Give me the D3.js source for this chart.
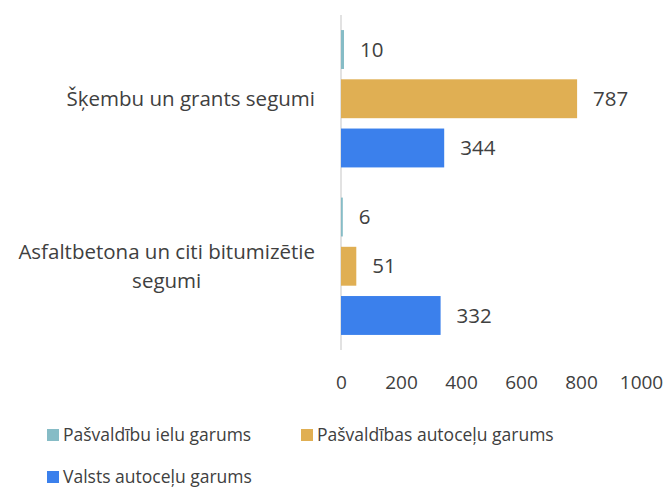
<!DOCTYPE html>
<html>
<head>
<meta charset="utf-8">
<script src="https://cdn.jsdelivr.net/npm/d3@7"></script>
<style>
  html, body { margin: 0; padding: 0; background: #fff; }
  svg text { font-family: "Open Sans", Lato, sans-serif; fill: #404040; }
</style>
</head>
<body>
<svg id="chart" width="669" height="488"></svg>
<script>
// Road lengths by surface type (km)
const categories = ["Šķembu un grants segumi", "Asfaltbetona un citi bitumizētie segumi"];
const seriesNames = ["Pašvaldību ielu garums", "Pašvaldības autoceļu garums", "Valsts autoceļu garums"];
const seriesColors = ["#86bcc6", "#e0af53", "#3b80ec"];
const pasvaldibuIelu = [10, 6];
const pasvaldibasAutocelu = [787, 51];
const valstsAutocelu = [344, 332];
const tickValues = [0, 200, 400, 600, 800, 1000];

const seriesValues = [pasvaldibuIelu, pasvaldibasAutocelu, valstsAutocelu];

const svg = d3.select("#chart");
const plot = { left: 341, right: 641, top: 15, bottom: 350 };

const x = d3.scaleLinear().domain([0, 1000]).range([plot.left, plot.right]);
const y0 = d3.scaleBand().domain(categories).range([plot.top, plot.bottom]).paddingInner(0.18).paddingOuter(0.09);
const y1 = d3.scaleBand().domain(seriesNames).range([0, y0.bandwidth()]).paddingInner(0.21);

// category axis line
svg.append("line")
  .attr("x1", x(0)).attr("x2", x(0))
  .attr("y1", plot.top).attr("y2", plot.bottom)
  .attr("stroke", "#d9d9d9").attr("stroke-width", 1.5);

const groups = svg.selectAll("g.cat")
  .data(categories)
  .join("g")
  .attr("class", "cat")
  .attr("transform", d => `translate(0,${y0(d)})`);

groups.each(function(cat, ci) {
  const g = d3.select(this);
  seriesNames.forEach((s, si) => {
    const v = seriesValues[si][ci];
    g.append("rect")
      .attr("x", x(0))
      .attr("y", y1(s))
      .attr("width", x(v) - x(0))
      .attr("height", y1.bandwidth())
      .attr("fill", seriesColors[si]);
    g.append("text")
      .attr("x", x(v) + 16)
      .attr("y", y1(s) + y1.bandwidth() / 2)
      .attr("dy", "0.35em")
      .attr("font-size", 20.5)
      .text(v);
  });
});

// category labels: block right-aligned near the axis, lines centred within the block
const catLines = [["Šķembu un grants segumi"], ["Asfaltbetona un citi bitumizētie", "segumi"]];
const labelRight = 315;
categories.forEach((c, i) => {
  const cy = y0(c) + y0.bandwidth() / 2;
  const lines = catLines[i];
  const lh = 29;
  const texts = lines.map((ln, li) => svg.append("text")
      .attr("y", cy + (li - (lines.length - 1) / 2) * lh)
      .attr("dy", "0.35em")
      .attr("text-anchor", "middle")
      .attr("font-size", 20.5)
      .attr("fill", "#595959")
      .text(ln));
  const maxW = d3.max(texts, t => t.node().getComputedTextLength());
  texts.forEach(t => t.attr("x", labelRight - maxW / 2));
});

// value axis
const axis = d3.axisBottom(x).tickValues(tickValues).tickFormat(d3.format("d")).tickSize(0).tickPadding(0);
const ax = svg.append("g").attr("transform", "translate(0,382)").call(axis);
ax.select(".domain").remove();
ax.selectAll("text").attr("font-size", 19).attr("fill", "#595959").attr("dy", "0.35em")
  .style("font-family", "'Open Sans', Lato, sans-serif");

// legend
const legendPos = [[47, 435], [301, 435], [47, 477]];
seriesNames.forEach((s, i) => {
  const [lx, ly] = legendPos[i];
  svg.append("rect").attr("x", lx).attr("y", ly - 6).attr("width", 12).attr("height", 12).attr("fill", seriesColors[i]);
  svg.append("text").attr("x", lx + 16).attr("y", ly).attr("dy", "0.35em")
    .attr("font-size", 17.5).attr("fill", "#595959").text(s);
});
</script>
</body>
</html>
